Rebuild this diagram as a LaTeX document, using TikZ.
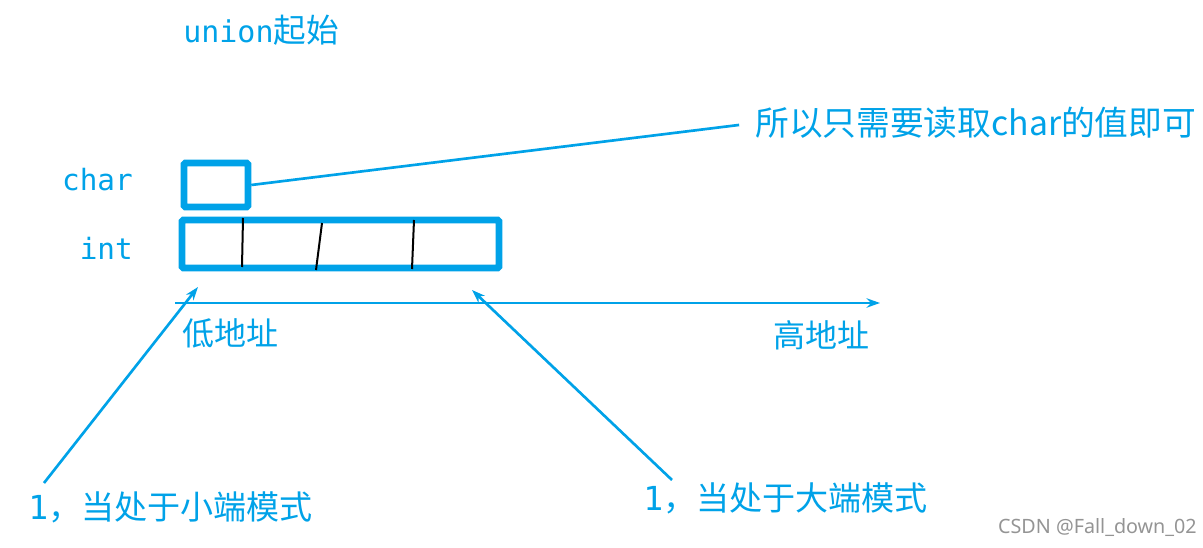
\documentclass[tikz,border=0pt]{standalone}
\usepackage{fontspec}
\setmonofont{DejaVu Sans Mono}
\newfontfamily\cjk{Noto Sans CJK SC}
\newfontfamily\wmfont{Noto Sans}
\usetikzlibrary{arrows.meta}
\definecolor{paintblue}{RGB}{0,162,232}

\begin{document}
\begin{tikzpicture}[x=0.75pt, y=-0.75pt,
  mem/.style = {draw=paintblue, line width=4.9pt, rounded corners=1pt, inner sep=0pt},
  lbl/.style = {text=paintblue, font=\cjk\fontsize{24}{28}\selectfont, inner sep=0pt},
  code/.style = {text=paintblue, font=\ttfamily\fontsize{22}{26}\selectfont, inner sep=0pt},
  pointer/.style = {draw=paintblue, line width=2pt, -{Stealth[length=10pt,width=7pt]}},
  divider/.style = {black, line width=1.5pt}]
\useasboundingbox (0,0) rectangle (1203,548);

% the two members of the union
\node [mem, minimum width=48pt, minimum height=33pt] (charbox) at (216,185) {};
\node [mem, minimum width=237.75pt, minimum height=36pt] (intbox) at (340.5,244) {};
\draw [divider] (243,218) -- (242,267);
\draw [divider] (322,223) -- (316,270);
\draw [divider] (414,220) -- (412,269);

\node [code, anchor=east] (charlbl) at (133,180) {char};
\node [code, anchor=east] (intlbl) at (133,248) {int};
\node [code, anchor=west, font=\ttfamily\fontsize{22.5}{26}\selectfont] (start) at (183,30) {union{\cjk\fontsize{24.5}{28}\selectfont 起始}};

% only the first byte is read
\node [lbl, anchor=west, font=\cjk\fontsize{25.3}{29}\selectfont] (readtext) at (755,123) {所以只需要读取char的值即可};
\draw [paintblue, line width=2pt, shorten >=12pt] (charbox.east) -- (readtext.west);

% address axis
\coordinate (axisstart) at (175,303);
\coordinate (axisend) at (880,303);
\draw [pointer] (axisstart) -- (axisend);
\node [lbl, anchor=west] (low) at (182,333) {低地址};
\node [lbl, anchor=west] (high) at (773,335) {高地址};

% endianness
\node [lbl, anchor=west, font=\cjk\fontsize{24.8}{29}\selectfont] (little) at (28,507) {{\ttfamily 1}，当处于小端模式};
\node [lbl, anchor=west, font=\cjk\fontsize{24.8}{29}\selectfont] (big) at (643,498) {{\ttfamily 1}，当处于大端模式};
\coordinate (littletip) at (198,287);
\coordinate (bigtip) at (472,290);
\draw [pointer] (44,483) -- (littletip);
\draw [pointer] (672,480) -- (bigtip);

\node [anchor=east, inner sep=0pt, text=black!42, font=\wmfont\fontsize{14.8}{17}\selectfont] (mark) at (1197,528) {CSDN @Fall\_down\_02};
\end{tikzpicture}
\end{document}
